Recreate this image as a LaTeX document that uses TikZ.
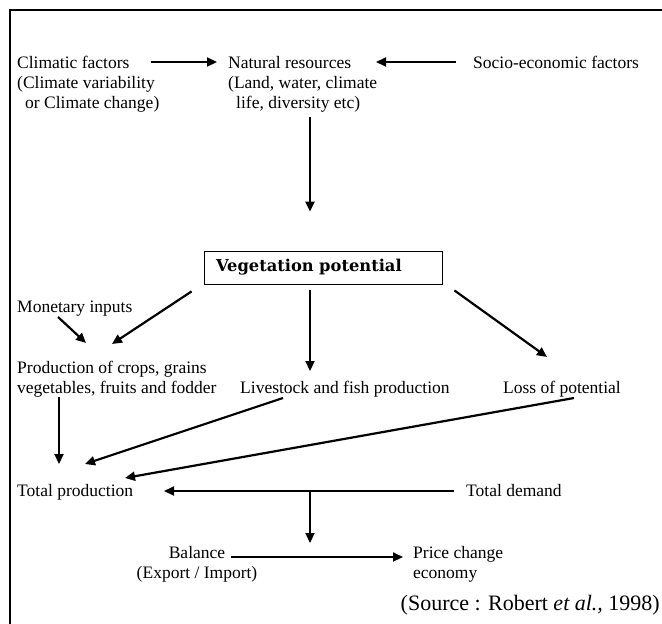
\documentclass[tikz,border=0pt]{standalone}
\usepackage{fontspec}
\setmainfont{Liberation Serif}
\newfontfamily\vegfont{DejaVu Serif}
\usetikzlibrary{arrows.meta}
\begin{document}
\begin{tikzpicture}[x=1pt,y=-1pt,
  txt/.style={inner sep=0pt,anchor=base west,align=left,font=\fontsize{17.5}{20}\selectfont},
  arr/.style={line width=2.2pt,-{Triangle[length=10pt,width=9pt]}},
  frame/.style={line width=2pt}]
\useasboundingbox (0,0) rectangle (662,624);
\draw[frame] (10,624) -- (10,10) -- (662,10);

% multi-line nodes: base anchor = baseline of last line
\node[txt] (clim) at (17,108) {Climatic factors\\(Climate variability\\\hspace*{8pt}or Climate change)};
\node[txt] (nat) at (228,108) {Natural resources\\(Land, water, climate\\\hspace*{8pt}life, diversity etc)};
\node[txt] (soc) at (473,68) {Socio-economic factors};

\node[draw,line width=0.8pt,minimum height=33pt,text width=214pt,inner xsep=12pt,align=left,
      font=\vegfont\bfseries\fontsize{16.3}{18}\selectfont] (veg) at (323,267.5) {Vegetation potential};

\node[txt] (mon) at (17,312) {Monetary inputs};
\node[txt] (prod) at (17,393) {Production of crops, grains\\vegetables, fruits and fodder};
\node[txt] (live) at (240,393) {Livestock and fish production};
\node[txt] (loss) at (503,393) {Loss of potential};
\node[txt] (tot) at (17,496) {Total production};
\node[txt] (dem) at (466,496) {Total demand};
\node[txt,anchor=base,align=center] (bal) at (197,578) {Balance\\(Export / Import)};
\node[txt] (price) at (413,578) {Price change\\economy};
\node[inner sep=0pt,anchor=base east,font=\fontsize{22}{26}\selectfont] (src) at (660,610) {(Source : Robert \textit{et al.,} 1998)};

\coordinate (jn) at ([shift={(-156,-5)}]dem.base west);

\draw[arr] ([shift={(134,-46)}]clim.base west) -- ([shift={(-11,-46)}]nat.base west);
\draw[arr] ([shift={(-17,-6)}]soc.base west) -- ([shift={(148,-46)}]nat.base west);
\draw[arr] ([shift={(82,9)}]nat.base west) -- ([shift={(-13,-39)}]veg.north);
\draw[arr] ([shift={(-12,7)}]veg.south west) -- ([shift={(95,-49)}]prod.base west);
\draw[arr] ([shift={(41,5)}]mon.base west) -- ([shift={(69,-50)}]prod.base west);
\draw[arr] ([shift={(-13,6)}]veg.south) -- ([shift={(70,-22)}]live.base west);
\draw[arr] ([shift={(12,6)}]veg.south east) -- ([shift={(44,-36)}]loss.base west);
\draw[arr] ([shift={(42,4)}]prod.base west) -- ([shift={(42,-32)}]tot.base west);
\draw[arr] ([shift={(43,5)}]live.base west) -- ([shift={(68,-32)}]tot.base west);
\draw[arr] ([shift={(71,5)}]loss.base west) -- ([shift={(108,-18)}]tot.base west);
\draw[arr] ([shift={(-12,-5)}]dem.base west) -- ([shift={(147,-5)}]tot.base west);
\draw[arr] (jn) -- ([shift={(113,-35)}]bal.base);
\draw[arr] ([shift={(34,-21)}]bal.base) -- ([shift={(-10,-21)}]price.base west);
\end{tikzpicture}
\end{document}
